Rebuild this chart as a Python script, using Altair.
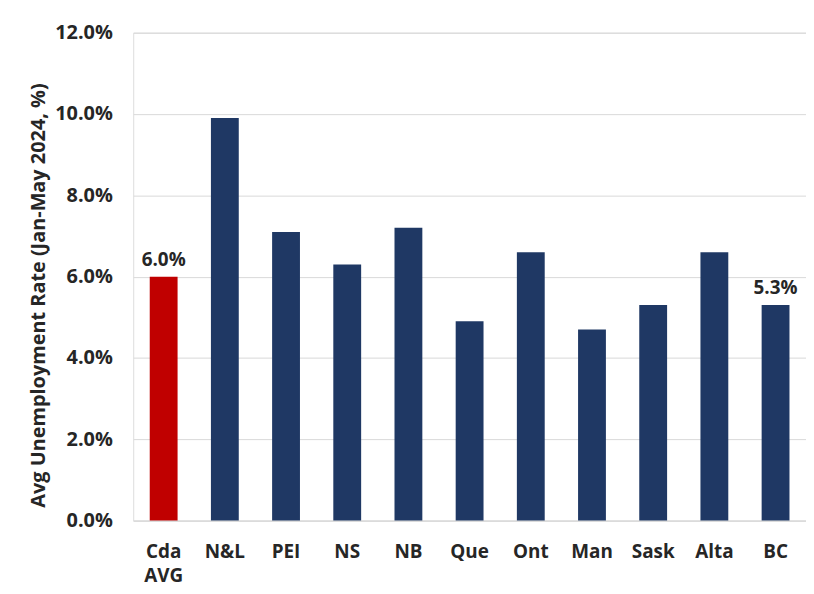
import altair as alt
import pandas as pd

categories = ["Cda AVG", "N&L", "PEI", "NS", "NB", "Que", "Ont", "Man", "Sask", "Alta", "BC"]
values = [6.0, 9.9, 7.1, 6.3, 7.2, 4.9, 6.6, 4.7, 5.3, 6.6, 5.3]
labels = ["6.0%", "", "", "", "", "", "", "", "", "", "5.3%"]
colors = ["#C00000"] + ["#1F3864"] * 10

df = pd.DataFrame({"cat": categories, "val": [v / 100 for v in values], "lab": labels, "col": colors})

FONT = "Open Sans"

base = alt.Chart(df).encode(
    x=alt.X("cat:N", sort=categories, title=None,
            scale=alt.Scale(paddingInner=0.545, paddingOuter=0.27),
            axis=alt.Axis(labelAngle=0, labelFont=FONT, labelFontSize=19, labelFontWeight="bold",
                          labelColor="#262626", ticks=False, domainColor="#D9D9D9", domainWidth=1,
                          labelPadding=22, labelLineHeight=24,
                          labelExpr="datum.label == 'Cda AVG' ? ['Cda', 'AVG'] : datum.label")),
    y=alt.Y("val:Q", title="Avg Unemployment Rate (Jan-May 2024, %)",
            scale=alt.Scale(domain=[0, 0.12], nice=False),
            axis=alt.Axis(format=".1%", values=[0, 0.02, 0.04, 0.06, 0.08, 0.10, 0.12],
                          labelFont=FONT, labelFontSize=20, labelFontWeight="bold", labelColor="#262626",
                          titleFont=FONT, titleFontSize=20, titleFontWeight="bold", titleColor="#262626",
                          titleY=264,
                          ticks=False, domain=False, gridColor="#D9D9D9", gridWidth=1,
                          labelPadding=21, titlePadding=6)),
)

bars = base.mark_bar().encode(color=alt.Color("col:N", scale=None))
text = base.mark_text(dy=-17, font=FONT, fontSize=19, fontWeight="bold", color="#262626").encode(text="lab:N")

chart = (bars + text).properties(
    width=677, height=491,
    padding={"left": 20, "top": 13, "right": 0, "bottom": 0},
).configure_view(stroke=None).configure(background="white")

chart.save("out.html", embed_options={"renderer": "svg", "actions": False})
